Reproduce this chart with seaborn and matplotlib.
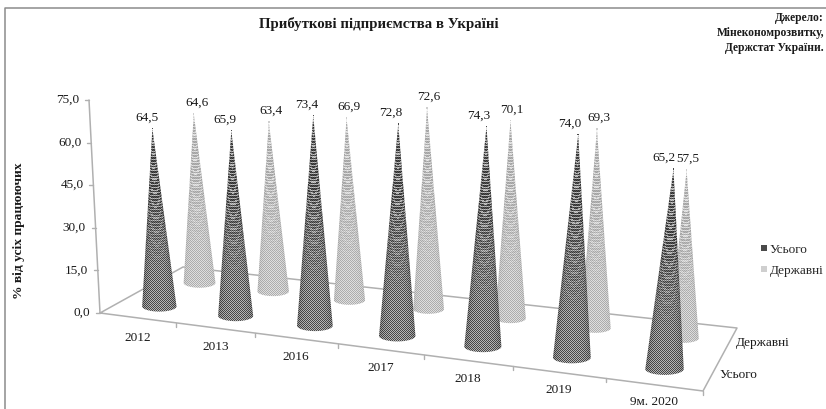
import numpy as np
import pandas as pd
import seaborn as sns
import matplotlib.pyplot as plt
from matplotlib.patches import Polygon

# Data
years = ['2012', '2013', '2016', '2017', '2018', '2019', '9м. 2020']
total = [64.5, 65.9, 73.4, 72.8, 74.3, 74.0, 65.2]
state = [64.6, 63.4, 66.9, 72.6, 70.1, 69.3, 57.5]
series_names = ['Усього', 'Державні']
y_ticks = [0, 15, 30, 45, 60, 75]

# Floor corners in pixels: front-left, front-right, back-right, back-left
FLOOR = [(100, 313), (703, 391), (737, 328), (183, 267)]
AXIS_TOP = (89, 100)

# tip lean and base half width per series: (at left, change to right)
LEAN = {'Усього': (-8.3, 18.6), 'Державні': (-6.5, 10.0)}
BASE_W = {'Усього': (17.0, 2.4), 'Державні': (16.0, -1.2)}


def homography(corners):
    src = [(0, 0), (1, 0), (1, 1), (0, 1)]
    a, b = [], []
    for (u, v), (x, y) in zip(src, corners):
        a.append([u, v, 1, 0, 0, 0, -u * x, -v * x])
        a.append([0, 0, 0, u, v, 1, -u * y, -v * y])
        b += [x, y]
    return np.append(np.linalg.solve(np.array(a, float), np.array(b, float)), 1).reshape(3, 3)


H = homography(FLOOR)


def floor_xy(u, v):
    u = u + 0.05 * u * (1 - u)  # slight correction, the excel perspective is softer
    p = H @ np.array([u, v, 1.0])
    return p[0] / p[2], p[1] / p[2]


def unit_at(u, v):
    # pixels per percent, nearer cones look taller
    return 2.73 + 0.36 * u - 0.28 * (v - 0.25)


def cone_texture(x0, y0, xt, yt, w, h, dark):
    """Dotted rings: checker near the base, ring bands higher up."""
    xs = np.arange(int(min(x0 - w, xt)) - 2, int(max(x0 + w, xt)) + 3)
    ys = np.arange(int(yt) - 2, int(y0 + h) + 3)
    px, py = np.meshgrid(xs + 0.5, ys + 0.5)
    f = np.clip((y0 - py) / (y0 - yt), 0, 1)
    cx = x0 + (xt - x0) * f
    r = np.maximum(w * (1 - f), 0.5)
    d = np.clip((px - cx) / r, -1, 1)
    q = py - h * (1 - f) * np.sqrt(1 - d ** 2)
    checker = ((xs[None, :] + ys[:, None]) % 2).astype(float)
    bands = np.where(q % 2.7 < 1.5, 0.12, 0.85)
    mix = np.clip((f - 0.2) * 2.2, 0, 1)
    val = (0.08 + 0.84 * checker) * (1 - mix) + (bands * 0.75 + checker * 0.25) * mix
    val = val * (1 - 0.2 * d ** 4)
    if not dark:
        val = 0.55 + 0.45 * val
    # a bit of softening like the scanned source
    soft = 0.76 * val
    for axis, step in [(0, 1), (0, -1), (1, 1), (1, -1)]:
        soft = soft + 0.06 * np.roll(val, step, axis=axis)
    return soft, (xs[0], xs[-1] + 1, ys[-1] + 1, ys[0])


def draw_cone(ax, x0, y0, xt, yt, w, dark):
    h = w * 0.31
    t = np.linspace(0, np.pi, 40)
    outline = np.vstack([np.column_stack([x0 + w * np.cos(t), y0 + h * np.sin(t)]), [xt, yt]])
    patch = Polygon(outline, closed=True, fc='none', ec='none', zorder=3)
    ax.add_patch(patch)
    tex, extent = cone_texture(x0, y0, xt, yt, w, h, dark)
    im = ax.imshow(tex, cmap='gray', vmin=0, vmax=1, extent=extent, interpolation='nearest',
                   aspect='auto', zorder=3)
    im.set_clip_path(patch)


sns.set_theme(style='white')
plt.rcParams['font.family'] = ['Liberation Serif', 'DejaVu Serif']

fig, ax = plt.subplots(figsize=(8.26, 4.09), dpi=100)
ax.set_position([0, 0, 1, 1])

GREY = '#b0b0b0'
TXT = '#1a1a1a'

# frame, only top and left are inside the picture
ax.plot([5, 5, 826], [409, 8, 8], color='#8c8c8c', lw=1.1)

# floor
fl, fr, br, bl = FLOOR
ax.plot([fl[0], fr[0], br[0], bl[0], fl[0]], [fl[1], fr[1], br[1], bl[1], fl[1]], color=GREY, lw=1.1, zorder=1)

# value axis
ax.plot([fl[0], AXIS_TOP[0]], [fl[1], AXIS_TOP[1]], color=GREY, lw=1.1, zorder=1)
for v in y_ticks:
    f = v / y_ticks[-1]
    xx = fl[0] + (AXIS_TOP[0] - fl[0]) * f
    yy = fl[1] + (AXIS_TOP[1] - fl[1]) * f
    ax.plot([xx - 4, xx], [yy, yy], color=GREY, lw=1.0)
    ax.text(xx - 10, yy, f'{v:.1f}'.replace('.', ','), ha='right', va='center', fontsize=9.5, color=TXT)
ax.text(19, 231, '% від усіх працюючих', rotation=90, ha='center', va='center', fontsize=9.7,
        fontweight='bold', color=TXT)

# category ticks and labels
for i, name in enumerate(years):
    x, y = floor_xy((i + 1) / len(years), 0)
    ax.plot([x, x], [y, y + 4], color=GREY, lw=1.0)
    u_pos = (i + 0.5) / len(years)
    x, y = floor_xy(u_pos, 0)
    ax.text(x, y + 20 - 3 * u_pos, name, ha='center', va='center', fontsize=9.5, color=TXT)

# series labels on the right side
for j, name in enumerate(series_names):
    x, y = floor_xy(1, (j + 0.5) / 2)
    ax.text(x + 7, y + 1, name, ha='left', va='center', fontsize=9.5, color=TXT)

# build cone table
rows = []
for j, values in enumerate([total, state]):
    name = series_names[j]
    v_pos = (j + 0.5) / 2
    for i, val in enumerate(values):
        u_pos = (i + 0.5) / len(years)
        x0, y0 = floor_xy(u_pos, v_pos)
        y0 += 1
        rows.append(dict(year=years[i], series=name, value=val, x0=x0, y0=y0, u_pos=u_pos,
                         w=BASE_W[name][0] + BASE_W[name][1] * u_pos,
                         tip_x=x0 + LEAN[name][0] + LEAN[name][1] * u_pos,
                         tip_y=y0 - unit_at(u_pos, v_pos) * val))
df = pd.DataFrame(rows)

# back row first
for name in reversed(series_names):
    part = df[df.series == name]
    for r in part.itertuples():
        draw_cone(ax, r.x0, r.y0, r.tip_x, r.tip_y, r.w, name == 'Усього')
        shift = -5 - 5 * r.u_pos if name == 'Усього' else 3 - 2 * r.u_pos
        ax.text(r.tip_x + shift, r.tip_y - 11, f'{r.value:.1f}'.replace('.', ','), ha='center', va='center',
                fontsize=9.5, color=TXT, zorder=6)

# tips as points, gives the legend too
sns.scatterplot(data=df, x='tip_x', y='tip_y', hue='series', hue_order=series_names,
                palette=['#4a4a4a', '#cfcfcf'], marker='s', s=1, linewidth=0, ax=ax, zorder=5)
ax.set_xlabel('')
ax.set_ylabel('')
sns.move_legend(ax, 'center left', bbox_to_anchor=(760 / 826, 1 - 260 / 409), frameon=False, title=None,
                fontsize=9.5, handletextpad=0.15, handlelength=0.6, labelspacing=0.65, borderpad=0,
                borderaxespad=0, markerscale=4.3)

ax.text(379, 24, 'Прибуткові підприємства в Україні', ha='center', va='center', fontsize=10.7,
        fontweight='bold', color=TXT)
ax.text(824, 33, 'Джерело:\nМінекономрозвитку,\nДержстат України.', ha='right', va='center', fontsize=8.3,
        fontweight='bold', color=TXT, linespacing=1.33)

ax.set_xlim(0, 826)
ax.set_ylim(409, 0)
ax.axis('off')

fig.savefig('out.png', dpi=100)
